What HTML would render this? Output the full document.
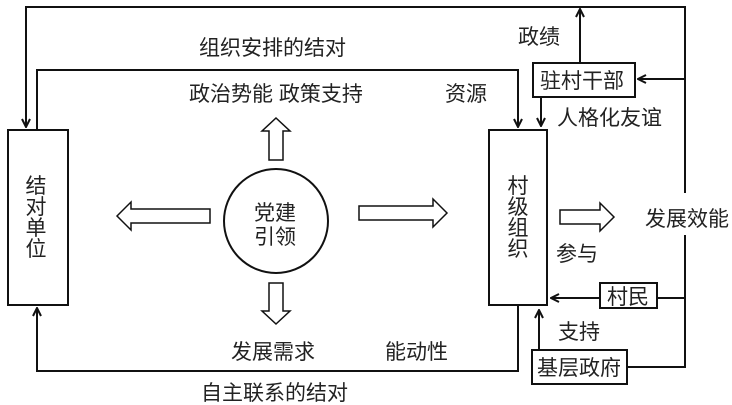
<!DOCTYPE html>
<html><head><meta charset="utf-8"><style>
html,body{margin:0;padding:0;background:#fff;}
svg{display:block}
text{font-family:"Liberation Sans","Noto Sans CJK SC",sans-serif;fill:#222;font-size:21px;}
</style></head><body>
<svg width="732" height="405" viewBox="0 0 732 405" xmlns="http://www.w3.org/2000/svg">
<defs>
<marker id="a" markerWidth="10" markerHeight="10" refX="9" refY="5" orient="auto" markerUnits="userSpaceOnUse">
<path d="M1,1 L9,5 L1,9" fill="none" stroke="#111" stroke-width="2"/>
</marker>
</defs>
<g fill="none" stroke="#111" stroke-width="2">
<rect x="8" y="130" width="60" height="175" fill="#fff"/>
<rect x="489" y="130" width="58" height="175"/>
<rect x="533" y="63" width="102" height="34"/>
<rect x="600" y="283" width="57" height="25"/>
<rect x="532" y="350" width="95" height="34"/>
<circle cx="276" cy="221" r="52"/>
<polyline points="685,193 685,7 26,7 26,127" marker-end="url(#a)"/>
<line x1="580" y1="63" x2="580" y2="9" marker-end="url(#a)"/>
<line x1="685" y1="79" x2="638" y2="79" marker-end="url(#a)"/>
<line x1="541" y1="97" x2="541" y2="126" marker-end="url(#a)"/>
<polyline points="37,130 37,70 518,70 518,127" marker-end="url(#a)"/>
<polyline points="518,305 518,371 37,371 37,308" marker-end="url(#a)"/>
<polyline points="685,235 685,367 627,367"/>
<line x1="657" y1="298" x2="685" y2="298"/>
<line x1="600" y1="298" x2="551" y2="298" marker-end="url(#a)"/>
<line x1="539" y1="350" x2="539" y2="310" marker-end="url(#a)"/>
</g>
<g fill="#fff" stroke="#111" stroke-width="1.5">
<polygon points="276,118 290,131 283,131 283,160 269,160 269,131 262,131"/>
<polygon points="276,324 290,311 283,311 283,283 269,283 269,311 262,311"/>
<polygon points="117,216 131,202 131,209 210,209 210,223 131,223 131,230"/>
<polygon points="447,213 433,199 433,206 359,206 359,220 433,220 433,227"/>
<polygon points="614,217 600,203 600,210 560,210 560,224 600,224 600,231"/>
</g>
<text x="199" y="55">组织安排的结对</text>
<text x="189" y="101">政治势能 政策支持</text>
<text x="445" y="101">资源</text>
<text x="231" y="359">发展需求</text>
<text x="385" y="359">能动性</text>
<text x="201" y="400">自主联系的结对</text>
<text x="518" y="44">政绩</text>
<text x="540" y="88">驻村干部</text>
<text x="557" y="125">人格化友谊</text>
<text x="645" y="226">发展效能</text>
<text x="556" y="261">参与</text>
<text x="607" y="304">村民</text>
<text x="558" y="339">支持</text>
<text x="537" y="375">基层政府</text>
<g style="font-size:20px">
<text x="254" y="220">党建</text>
<text x="254" y="244">引领</text>
</g>
<g text-anchor="middle" style="font-size:20px">
<text x="36" y="193">结</text>
<text x="36" y="214">对</text>
<text x="36" y="235">单</text>
<text x="36" y="256">位</text>
<text x="518" y="193">村</text>
<text x="518" y="214">级</text>
<text x="518" y="235">组</text>
<text x="518" y="256">织</text>
</g>
</svg>
</body></html>
